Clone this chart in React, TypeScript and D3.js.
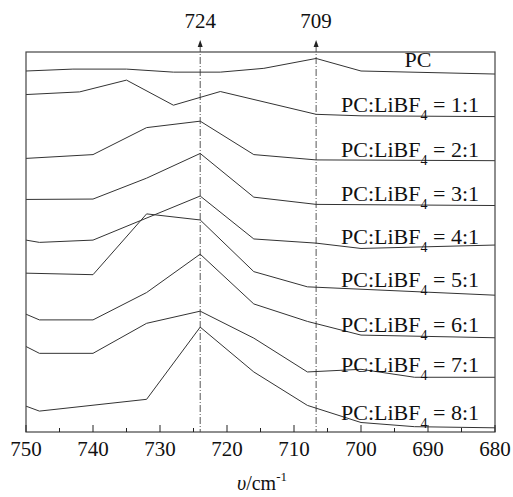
import React from 'react';
import * as d3 from 'd3';

// wavenumber / intensity (a.u.)
const pcX = [750, 743, 735, 728, 721, 714.5, 706.7, 700, 680];
const pcY = [9.5, 9.55, 9.55, 9.47, 9.47, 9.57, 9.83, 9.5, 9.42];

const r1X = [750, 742, 735, 728, 721, 706.7, 700, 680];
const r1Y = [8.88, 8.95, 9.26, 8.6, 8.96, 8.36, 8.32, 8.3];

const r2X = [750, 740, 732, 724, 716, 706.7, 680];
const r2Y = [7.2, 7.3, 8.01, 8.18, 7.3, 7.16, 7.14];

const r3X = [750, 740, 732, 724, 716, 706.7, 680];
const r3Y = [6.12, 6.13, 6.68, 7.33, 6.18, 5.99, 5.96];

const r4X = [750, 748, 740, 724, 716, 706.7, 700, 680];
const r4Y = [5.05, 4.99, 5.05, 6.21, 5.08, 4.97, 4.83, 4.92];

const r5X = [750, 740, 732, 724, 716, 708, 680];
const r5Y = [4.18, 4.14, 5.74, 5.58, 4.22, 3.82, 3.6];

const r6X = [750, 748, 740, 732, 724, 716, 708, 700, 680];
const r6Y = [3.1, 2.95, 2.95, 3.67, 4.68, 3.37, 2.91, 2.55, 2.48];

const r7X = [750, 748, 740, 732, 724, 716, 708, 700, 692, 680];
const r7Y = [2.25, 2.07, 2.07, 2.86, 3.18, 2.47, 1.58, 1.65, 1.44, 1.44];

const r8X = [750, 748, 732, 724, 716, 708, 700, 692, 680];
const r8Y = [0.68, 0.55, 0.86, 2.76, 1.58, 0.7, 0.25, 0.14, 0.11];

const seriesX = [pcX, r1X, r2X, r3X, r4X, r5X, r6X, r7X, r8X];
const seriesY = [pcY, r1Y, r2Y, r3Y, r4Y, r5Y, r6Y, r7Y, r8Y];

const ratios = ['', '1:1', '2:1', '3:1', '4:1', '5:1', '6:1', '7:1', '8:1'];
const labelLevels = [9.8, 8.6, 7.43, 6.27, 5.12, 4.0, 2.82, 1.76, 0.5];

const xTicks = [750, 740, 730, 720, 710, 700, 690, 680];
const markLines = [724, 706.7];
const markLabels = ['724', '709'];

const W = 513;
const H = 497;
const left = 26;
const right = 495;
const top = 52;
const bottom = 432;

export default function App() {
  const x = d3.scaleLinear().domain([750, 680]).range([left, right]);
  const y = d3.scaleLinear().domain([0, 10]).range([bottom, top]);
  const line = d3
    .line<[number, number]>()
    .x((d) => x(d[0]))
    .y((d) => y(d[1]));

  const minor = d3.range(745, 680, -10);
  const font = '"Liberation Serif", "Times New Roman", serif';

  return (
    <svg
      width={W}
      height={H}
      style={{ position: 'absolute', left: 0, top: 0, background: '#fff' }}
      fontFamily={font}
    >
      <rect x={0} y={0} width={W} height={H} fill="#fff" />

      {/* marker lines with arrows */}
      {markLines.map((v, i) => (
        <g key={'m' + i}>
          <line
            x1={x(v)}
            x2={x(v)}
            y1={45}
            y2={bottom}
            stroke="#555"
            strokeWidth={1}
            strokeDasharray="7,2,1,2"
          />
          <path
            d={`M${x(v)},40 L${x(v) - 2.5},47 L${x(v) + 2.5},47 Z`}
            fill="#222"
          />
          <text x={x(v)} y={28} fontSize={21} textAnchor="middle" fill="#111">
            {markLabels[i]}
          </text>
        </g>
      ))}

      {/* spectra */}
      {seriesX.map((xs, i) => (
        <path
          key={'s' + i}
          d={line(xs.map((v, j) => [v, seriesY[i][j]] as [number, number])) || ''}
          fill="none"
          stroke="#333"
          strokeWidth={1}
        />
      ))}

      {/* labels */}
      {ratios.map((r, i) =>
        i === 0 ? (
          <text key={'l' + i} x={418} y={y(labelLevels[i]) + 7} fontSize={22} textAnchor="middle" fill="#111">
            PC
          </text>
        ) : (
          <text key={'l' + i} x={479} y={y(labelLevels[i]) + 7} fontSize={22} textAnchor="end" fill="#111">
            PC:LiBF
            <tspan fontSize={14} dy={8}>4</tspan>
            <tspan dy={-8}>{' = ' + r}</tspan>
          </text>
        )
      )}

      {/* frame */}
      <rect
        x={left}
        y={top}
        width={right - left}
        height={bottom - top}
        fill="none"
        stroke="#444"
        strokeWidth={1.2}
      />

      {/* ticks */}
      {xTicks.map((t) => (
        <g key={'t' + t}>
          <line x1={x(t)} x2={x(t)} y1={bottom} y2={bottom - 7} stroke="#222" />
          <text x={x(t)} y={456} fontSize={21} textAnchor="middle" fill="#111">
            {t}
          </text>
        </g>
      ))}
      {minor.map((t) => (
        <line key={'n' + t} x1={x(t)} x2={x(t)} y1={bottom} y2={bottom - 4} stroke="#222" />
      ))}

      {/* axis title */}
      <text x={262} y={490} fontSize={20} textAnchor="middle" fill="#111">
        <tspan fontStyle="italic">υ</tspan>/cm
        <tspan fontSize={13} dy={-9}>-1</tspan>
      </text>
    </svg>
  );
}
